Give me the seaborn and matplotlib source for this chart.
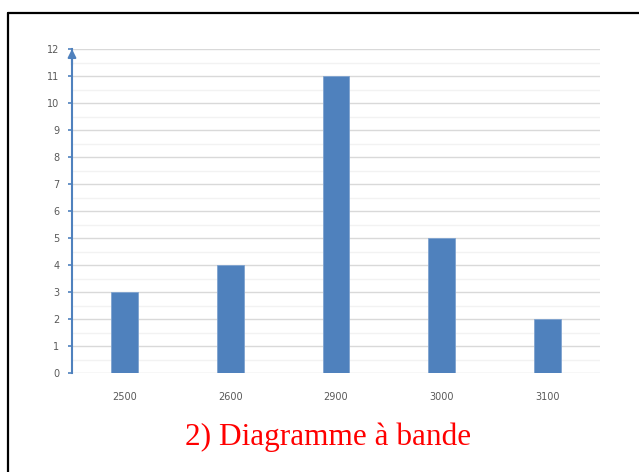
import matplotlib
matplotlib.use("Agg")
import matplotlib.pyplot as plt
import seaborn as sns
import pandas as pd
from matplotlib.lines import Line2D
from matplotlib.ticker import MultipleLocator

# Salary classes and their counts
salaires = ["2500", "2600", "2900", "3000", "3100"]
effectifs = [3, 4, 11, 5, 2]
y_ticks = list(range(0, 13))

df = pd.DataFrame({"salaire": salaires, "effectif": effectifs})

sns.set_theme(style="white")
plt.rcParams["font.family"] = ["DejaVu Sans"]

blue = "#4F81BD"
label_grey = "#595959"

fig = plt.figure(figsize=(6.39, 4.72), dpi=100)
W, H = 639, 472
ax = fig.add_axes([72 / W, 1 - 373 / H, (600 - 72) / W, (373 - 49) / H])

sns.barplot(data=df, x="salaire", y="effectif", color=blue, width=0.255,
            saturation=1, ax=ax, zorder=3, edgecolor="#7FA3CF", linewidth=0.6)

ax.set_ylim(0, 12)
ax.set_xlim(-0.5, len(salaires) - 0.5)
ax.set_yticks(y_ticks)
ax.yaxis.set_minor_locator(MultipleLocator(0.5))
ax.grid(axis="y", which="major", color="#D9D9D9", lw=1.0, zorder=0)
ax.grid(axis="y", which="minor", color="#F2F2F2", lw=1.0, zorder=0)
ax.set_axisbelow(True)

for s in ["top", "right", "bottom"]:
    ax.spines[s].set_visible(False)
ax.spines["left"].set_color(blue)
ax.spines["left"].set_linewidth(1.5)

ax.tick_params(axis="y", which="major", left=True, length=3, width=1.2,
               color=blue, labelsize=7, labelcolor=label_grey, pad=6)
ax.tick_params(axis="y", which="minor", left=False)
ax.tick_params(axis="x", bottom=False, labelsize=7, labelcolor=label_grey, pad=8)
ax.set_xlabel("")
ax.set_ylabel("")

# arrowhead on the vertical axis
ax.annotate("", xy=(0, 1.0), xytext=(0, 0.95), xycoords="axes fraction",
            arrowprops=dict(arrowstyle="-|>", color=blue, lw=1.5,
                            mutation_scale=12, shrinkA=0, shrinkB=0))

# outer frame lines
fig.add_artist(Line2D([8 / W, 8 / W], [0, 1 - 13 / H], color="black", lw=1.6,
                      transform=fig.transFigure))
fig.add_artist(Line2D([8 / W, 1], [1 - 13 / H, 1 - 13 / H], color="black", lw=1.6,
                      transform=fig.transFigure))

fig.text(328 / W, 1 - 437 / H, "2) Diagramme à bande", color="red",
         fontsize=22.5, family=["Liberation Serif"], ha="center", va="center")

fig.savefig("out.png", dpi=100)
